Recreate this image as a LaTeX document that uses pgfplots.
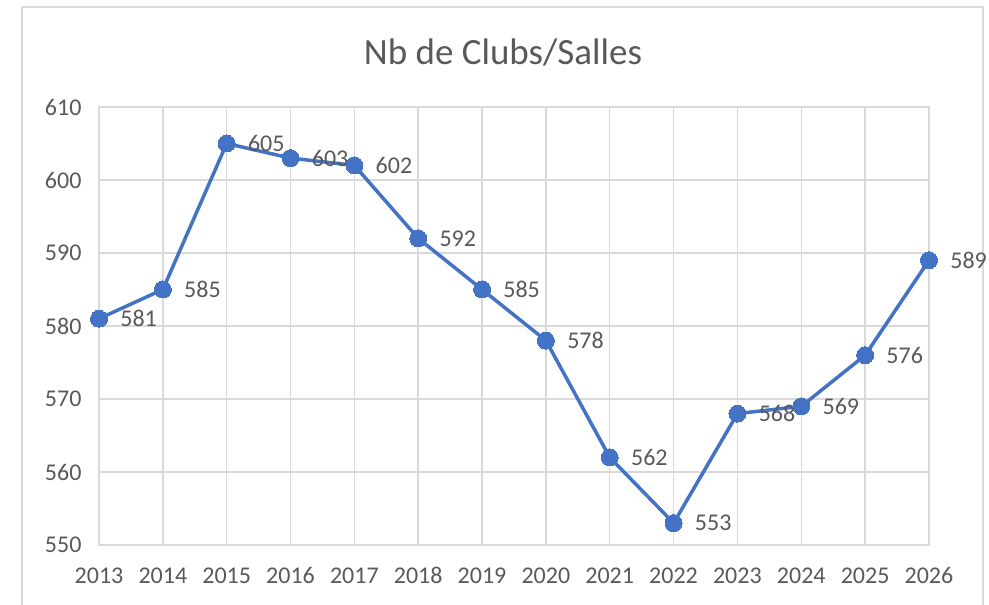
\documentclass[border=0pt]{standalone}
\usepackage{fontspec}
\setmainfont{Carlito}
\usepackage{pgfplots}
\pgfplotsset{compat=1.18}
\definecolor{linec}{HTML}{4472C4}
\definecolor{gridc}{HTML}{D9D9D9}
\definecolor{txt}{HTML}{595959}
\begin{document}
\begin{tikzpicture}[x=1pt,y=1pt]
\path[use as bounding box] (0,0) rectangle (989,605);
\draw[gridc, line width=2pt] (22,0) -- (22,598) -- (983,598) -- (983,0);
\node[txt, font=\fontsize{37}{41}\selectfont] at (503,553) {Nb de Clubs/Salles};
\begin{axis}[at={(99pt,60pt)}, anchor=south west, scale only axis,
  width=830pt, height=438pt,
  xmin=2013, xmax=2026, ymin=550, ymax=610,
  xtick={2013,2014,...,2026}, ytick={550,560,...,610},
  grid=major, grid style={gridc, line width=1.4pt},
  axis line style={gridc, line width=1.4pt},
  major tick length=0pt,
  clip=false,
  tick label style={txt, font=\fontsize{24}{27}\selectfont, /pgf/number format/assume math mode=true},
  x tick label style={/pgf/number format/1000 sep={}, yshift=-19pt},
  y tick label style={xshift=-14pt},
  nodes near coords,
  every node near coord/.append style={txt, font=\fontsize{24}{27}\selectfont, anchor=west, xshift=18pt, /pgf/number format/assume math mode=true},
]
\addplot[linec, line width=3.5pt, mark=*, mark size=8.5pt, mark options={fill=linec, draw=linec, line width=0pt}] coordinates {
(2013,581) (2014,585) (2015,605) (2016,603) (2017,602) (2018,592) (2019,585)
(2020,578) (2021,562) (2022,553) (2023,568) (2024,569) (2025,576) (2026,589)
};
\end{axis}
\end{tikzpicture}
\end{document}
